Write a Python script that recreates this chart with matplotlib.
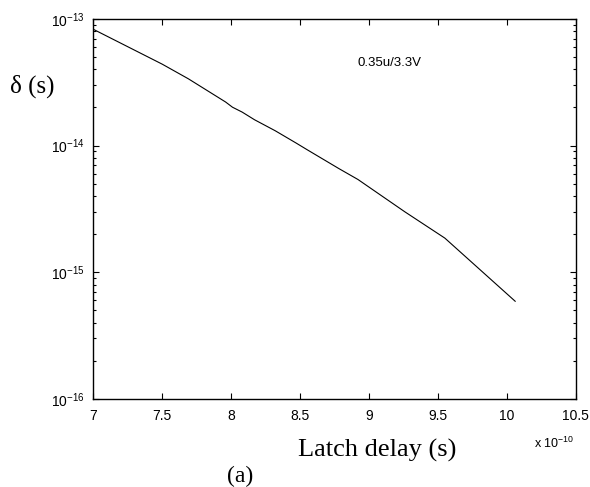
import numpy as np
import matplotlib
matplotlib.use('Agg')
import matplotlib.pyplot as plt
from matplotlib.ticker import FixedLocator, FuncFormatter, LogLocator, NullFormatter

# latch delay in units of 1e-10 s, delta in s
latch_delay = [7.00, 7.50, 7.69, 7.96, 8.01, 8.08, 8.17, 8.32, 8.47, 8.55,
               8.78, 8.92, 9.26, 9.55, 10.06]
delta = [8.3e-14, 4.4e-14, 3.37e-14, 2.21e-14, 2.01e-14, 1.84e-14, 1.60e-14,
         1.31e-14, 1.05e-14, 9.3e-15, 6.6e-15, 5.4e-15, 3.0e-15, 1.86e-15, 5.9e-16]
xticks = [7, 7.5, 8, 8.5, 9, 9.5, 10, 10.5]
yticks = [1e-16, 1e-15, 1e-14, 1e-13]

plt.rcParams['font.family'] = ['Liberation Sans', 'DejaVu Sans']
plt.rcParams['mathtext.fontset'] = 'custom'
plt.rcParams['mathtext.rm'] = 'Liberation Sans'
plt.rcParams['mathtext.it'] = 'Liberation Sans'

fig = plt.figure(figsize=(5.9, 4.87), dpi=100)
ax = fig.add_axes([0.158, 0.181, 0.818, 0.780])

ax.plot(latch_delay, delta, color='black', lw=0.8)
ax.set_yscale('log')
ax.set_xlim(7, 10.5)
ax.set_ylim(1e-16, 1e-13)

ax.xaxis.set_major_locator(FixedLocator(xticks))
ax.xaxis.set_major_formatter(FuncFormatter(lambda v, p: ('%g' % v)))
ax.yaxis.set_major_locator(FixedLocator(yticks))
ax.yaxis.set_major_formatter(FuncFormatter(
    lambda v, p: r'$\mathregular{10^{%d}}$' % int(round(np.log10(v)))))
ax.yaxis.set_minor_locator(LogLocator(base=10, subs=np.arange(2, 10)))
ax.yaxis.set_minor_formatter(NullFormatter())

ax.tick_params(which='both', direction='in', top=True, right=True, labelsize=10)
ax.tick_params(which='major', length=4, width=0.8)
ax.tick_params(which='minor', length=2.5, width=0.8)
ax.tick_params(axis='x', pad=7)
ax.tick_params(axis='y', pad=6)
for s in ax.spines.values():
    s.set_linewidth(1.0)

ax.text(0.613, 0.885, '0.35u/3.3V', transform=ax.transAxes, fontsize=9.5,
        ha='center', va='center')

fig.text(534 / 590, 1 - 443 / 487, r'x $\mathregular{10^{-10}}$', fontsize=9,
         ha='left', va='center')
fig.text(32 / 590, 1 - 86 / 487, 'δ (s)', family='Liberation Serif',
         fontsize=18, ha='center', va='center')
fig.text(377 / 590, 1 - 450 / 487, 'Latch delay (s)', family='Liberation Serif',
         fontsize=19, ha='center', va='center')
fig.text(240 / 590, 1 - 476 / 487, '(a)', family='Liberation Serif',
         fontsize=17, ha='center', va='center')

fig.savefig('out.png', dpi=100)
